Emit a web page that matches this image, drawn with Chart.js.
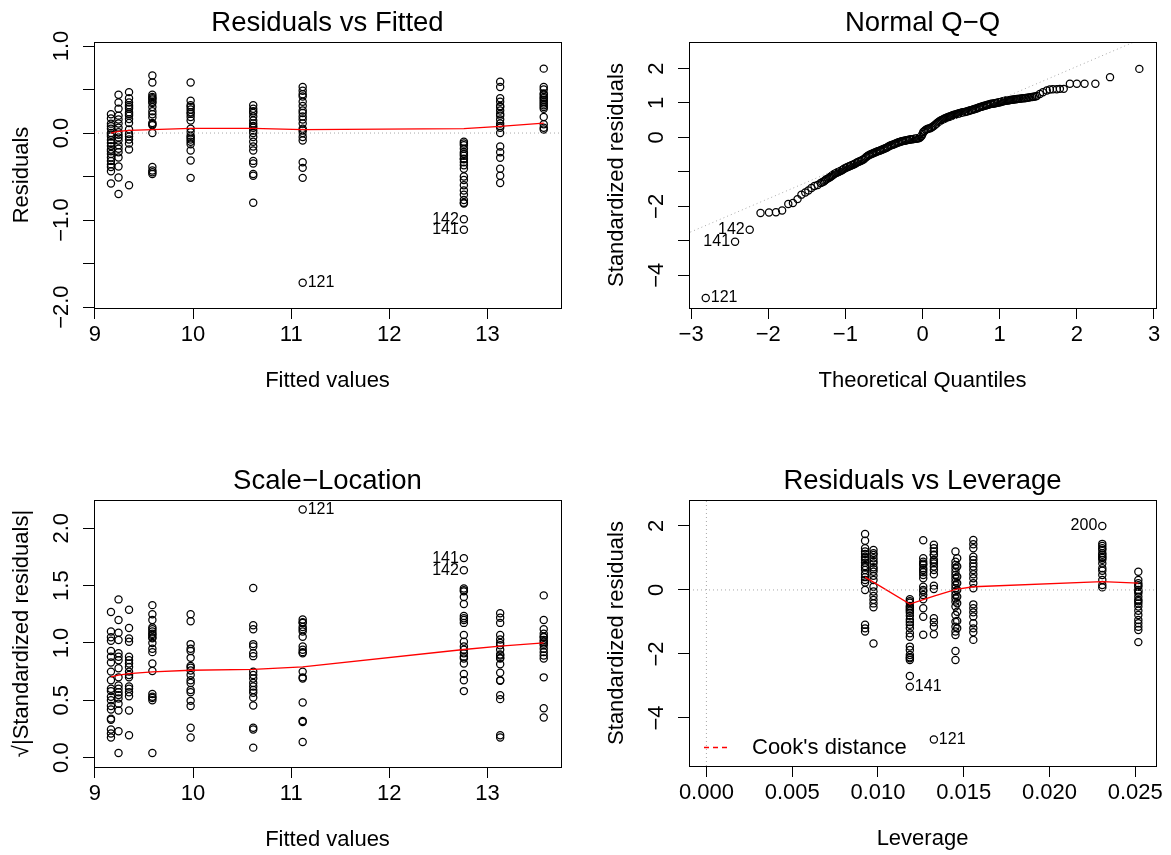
<!DOCTYPE html>
<html>
<head>
<meta charset="utf-8">
<script src="https://cdn.jsdelivr.net/npm/chart.js@4.4.1/dist/chart.umd.min.js"></script>
<style>
  body { margin: 0; background: #fff; }
  canvas { position: absolute; left: 0; top: 0; }
</style>
</head>
<body>
<canvas id="p1" width="1171" height="855"></canvas>
<canvas id="p2" width="1171" height="855"></canvas>
<canvas id="p3" width="1171" height="855"></canvas>
<canvas id="p4" width="1171" height="855"></canvas>
<script>
// ---- data ----
const fittedGroups = [9.163, 9.24, 9.347, 9.585, 9.975, 10.613, 11.117, 12.76, 13.13, 13.574];

// residuals, one list per fitted value
const residuals = [
  [0.215, 0.166, 0.108, 0.077, 0.05, 0.0, -0.02, -0.04, -0.08, -0.115, -0.15, -0.19, -0.21, -0.24, -0.28, -0.32, -0.36, -0.39, -0.44, -0.58],
  [0.44, 0.35, 0.28, 0.20, 0.155, 0.11, 0.06, 0.01, -0.02, -0.05, -0.085, -0.14, -0.18, -0.22, -0.28, -0.385, -0.51, -0.70],
  [0.47, 0.40, 0.35, 0.32, 0.30, 0.28, 0.24, 0.22, 0.20, 0.16, 0.115, 0.04, -0.01, -0.04, -0.075, -0.12, -0.19, -0.60],
  [0.66, 0.58, 0.44, 0.415, 0.40, 0.385, 0.36, 0.345, 0.30, 0.25, 0.215, 0.18, 0.115, 0.10, 0.09, 0.0, -0.39, -0.43, -0.45, -0.47],
  [0.58, 0.37, 0.32, 0.30, 0.27, 0.24, 0.22, 0.185, 0.145, 0.05, 0.01, -0.03, -0.05, -0.075, -0.10, -0.13, -0.20, -0.315, -0.515],
  [0.32, 0.28, 0.25, 0.23, 0.19, 0.145, 0.11, 0.08, 0.06, 0.03, 0.0, -0.046, -0.10, -0.155, -0.20, -0.32, -0.35, -0.47, -0.49, -0.80],
  [0.53, 0.485, 0.445, 0.42, 0.36, 0.31, 0.26, 0.23, 0.19, 0.155, 0.11, 0.05, 0.03, 0.0, -0.046, -0.085, -0.335, -0.40, -0.515, -1.72],
  [-0.10, -0.12, -0.14, -0.18, -0.22, -0.24, -0.26, -0.295, -0.30, -0.335, -0.37, -0.41, -0.50, -0.54, -0.60, -0.66, -0.71, -0.77, -0.80, -0.81, -0.99, -1.11],
  [0.59, 0.53, 0.40, 0.36, 0.31, 0.30, 0.26, 0.22, 0.20, 0.155, 0.11, 0.08, 0.06, 0.0, -0.155, -0.22, -0.285, -0.41, -0.49, -0.575],
  [0.74, 0.53, 0.50, 0.455, 0.44, 0.415, 0.40, 0.38, 0.36, 0.34, 0.32, 0.30, 0.28, 0.185, 0.10, 0.06, 0.04]
];
const residSmoothY = [0.0, 0.02, 0.03, 0.04, 0.054, 0.054, 0.04, 0.05, 0.077, 0.115];

// sqrt(|standardized residuals|), same fitted values
const sqrtStdResid = [
  [1.27, 1.10, 1.05, 1.02, 0.93, 0.88, 0.83, 0.75, 0.675, 0.60, 0.58, 0.53, 0.50, 0.45, 0.42, 0.34, 0.33, 0.245, 0.21, 0.175],
  [1.38, 1.20, 1.09, 1.025, 0.91, 0.88, 0.85, 0.78, 0.70, 0.63, 0.60, 0.57, 0.545, 0.515, 0.47, 0.41, 0.23, 0.04],
  [1.29, 1.13, 1.04, 1.01, 0.88, 0.85, 0.82, 0.79, 0.75, 0.72, 0.70, 0.62, 0.60, 0.57, 0.535, 0.41, 0.195],
  [1.33, 1.25, 1.20, 1.135, 1.12, 1.10, 1.08, 1.07, 1.05, 1.04, 1.00, 0.95, 0.92, 0.82, 0.755, 0.555, 0.53, 0.52, 0.50, 0.04],
  [1.25, 1.19, 0.99, 0.95, 0.93, 0.87, 0.80, 0.785, 0.76, 0.72, 0.675, 0.65, 0.59, 0.57, 0.495, 0.45, 0.26, 0.175],
  [1.48, 1.155, 1.12, 0.99, 0.97, 0.91, 0.885, 0.75, 0.72, 0.69, 0.65, 0.62, 0.59, 0.565, 0.525, 0.455, 0.26, 0.245, 0.087],
  [2.165, 1.205, 1.18, 1.175, 1.14, 1.12, 1.10, 1.055, 0.97, 0.94, 0.92, 0.91, 0.75, 0.70, 0.69, 0.48, 0.32, 0.31, 0.136],
  [1.74, 1.635, 1.475, 1.46, 1.45, 1.40, 1.34, 1.235, 1.215, 1.20, 1.175, 1.07, 1.01, 0.97, 0.94, 0.91, 0.88, 0.865, 0.82, 0.73, 0.675, 0.58],
  [1.26, 1.22, 1.175, 1.07, 1.03, 1.00, 0.98, 0.94, 0.90, 0.89, 0.87, 0.865, 0.815, 0.74, 0.675, 0.67, 0.545, 0.51, 0.195, 0.175],
  [1.415, 1.20, 1.12, 1.08, 1.055, 1.05, 1.025, 1.01, 0.995, 0.98, 0.95, 0.92, 0.89, 0.865, 0.70, 0.43, 0.35]
];
const scaleSmoothY = [0.704, 0.72, 0.733, 0.748, 0.762, 0.769, 0.791, 0.943, 0.972, 1.001];

// normal Q-Q: theoretical quantiles and standardized residuals
const qqTheo = [-2.81, -2.43, -2.24, -2.10, -1.99, -1.90, -1.82, -1.74, -1.68, -1.62, -1.57, -1.52, -1.48, -1.44, -1.40, -1.36,
  -1.32, -1.28, -1.25, -1.21, -1.18, -1.15, -1.12, -1.09, -1.06, -1.03, -1.00, -0.97, -0.94, -0.91, -0.88, -0.85, -0.82, -0.79,
  -0.76, -0.73, -0.70, -0.67, -0.64, -0.61, -0.58, -0.55, -0.52, -0.49, -0.46, -0.43, -0.40, -0.37, -0.34, -0.31, -0.28, -0.25,
  -0.22, -0.19, -0.16, -0.13, -0.10, -0.07, -0.04, -0.01, 0.01, 0.04, 0.07, 0.10, 0.13, 0.16, 0.19, 0.22, 0.25, 0.28, 0.31, 0.34,
  0.37, 0.40, 0.43, 0.46, 0.49, 0.52, 0.55, 0.58, 0.61, 0.64, 0.67, 0.70, 0.73, 0.76, 0.79, 0.82, 0.85, 0.88, 0.91, 0.94, 0.97,
  1.00, 1.03, 1.06, 1.09, 1.12, 1.15, 1.18, 1.21, 1.24, 1.28, 1.32, 1.36, 1.40, 1.44, 1.48, 1.52, 1.56, 1.61, 1.65, 1.69, 1.74,
  1.78, 1.83, 1.91, 2.00, 2.10, 2.24, 2.43, 2.81];
const qqSample = [-4.66, -3.03, -2.68, -2.19, -2.18, -2.17, -2.12, -1.93, -1.90, -1.79, -1.66, -1.60, -1.54, -1.47, -1.41, -1.38,
  -1.32, -1.28, -1.22, -1.17, -1.12, -1.07, -1.03, -1.00, -0.97, -0.93, -0.89, -0.86, -0.83, -0.80, -0.77, -0.73, -0.70, -0.67,
  -0.63, -0.57, -0.52, -0.49, -0.46, -0.43, -0.40, -0.38, -0.35, -0.32, -0.29, -0.25, -0.22, -0.20, -0.17, -0.14, -0.12, -0.10,
  -0.09, -0.07, -0.06, -0.05, -0.04, -0.03, -0.02, 0.05, 0.16, 0.22, 0.25, 0.27, 0.31, 0.36, 0.42, 0.47, 0.51, 0.54, 0.57, 0.60,
  0.62, 0.65, 0.67, 0.69, 0.71, 0.73, 0.74, 0.76, 0.78, 0.80, 0.82, 0.84, 0.87, 0.89, 0.91, 0.93, 0.95, 0.97, 0.98, 0.99, 1.01,
  1.02, 1.04, 1.06, 1.07, 1.08, 1.09, 1.10, 1.11, 1.12, 1.13, 1.14, 1.15, 1.17, 1.18, 1.20, 1.26, 1.31, 1.36, 1.39, 1.40, 1.40,
  1.41, 1.41, 1.56, 1.56, 1.56, 1.56, 1.75, 1.99];
// further readings along the dense central part of the Q-Q curve
const qqTheoMid = [-1.30, -1.265, -1.23, -1.195, -1.165, -1.135, -1.105, -1.075, -1.045, -1.015, -0.985, -0.955, -0.925, -0.895,
  -0.865, -0.835, -0.805, -0.775, -0.745, -0.715, -0.685, -0.655, -0.625, -0.595, -0.565, -0.535, -0.505, -0.475, -0.445, -0.415,
  -0.385, -0.355, -0.325, -0.295, -0.265, -0.235, -0.205, -0.175, -0.145, -0.115, -0.085, -0.055, -0.025, 0.0, 0.025, 0.055, 0.085,
  0.115, 0.145, 0.175, 0.205, 0.235, 0.265, 0.295, 0.325, 0.355, 0.385, 0.415, 0.445, 0.475, 0.505, 0.535, 0.565, 0.595, 0.625,
  0.655, 0.685, 0.715, 0.745, 0.775, 0.805, 0.835, 0.865, 0.895, 0.925, 0.955, 0.985, 1.015, 1.045, 1.075, 1.105, 1.135, 1.165,
  1.195, 1.225, 1.26, 1.30, 1.34, 1.38, 1.42, 1.46];
const qqSampleMid = [-1.30, -1.25, -1.195, -1.145, -1.095, -1.05, -1.015, -0.985, -0.95, -0.91, -0.875, -0.845, -0.815, -0.785,
  -0.75, -0.715, -0.685, -0.65, -0.60, -0.545, -0.505, -0.475, -0.445, -0.415, -0.39, -0.365, -0.335, -0.305, -0.27, -0.235,
  -0.21, -0.185, -0.155, -0.13, -0.11, -0.095, -0.08, -0.065, -0.055, -0.045, -0.035, -0.025, 0.01, 0.10, 0.19, 0.235, 0.26,
  0.29, 0.335, 0.39, 0.445, 0.49, 0.525, 0.555, 0.585, 0.61, 0.635, 0.66, 0.68, 0.70, 0.72, 0.735, 0.75, 0.77, 0.79,
  0.81, 0.83, 0.855, 0.88, 0.90, 0.92, 0.94, 0.96, 0.975, 0.985, 1.0, 1.015, 1.03, 1.05, 1.065, 1.075, 1.085, 1.095,
  1.105, 1.115, 1.125, 1.135, 1.145, 1.16, 1.175, 1.19];
const qqLineX = [-3.2, 3.2];
const qqLineY = [-2.93, 3.21];

// residuals vs leverage
const leverageGroups = [0.00925, 0.00974, 0.01186, 0.01264, 0.01326, 0.01452, 0.01462, 0.01556, 0.02308, 0.02518];
const stdResid = [
  [1.75, 1.54, 1.30, 1.20, 1.125, 1.04, 1.0, 0.94, 0.85, 0.75, 0.70, 0.625, 0.50, 0.40, 0.31, 0.23, 0.0, -1.09, -1.20, -1.30],
  [1.25, 1.15, 1.09, 0.99, 0.90, 0.83, 0.71, 0.65, 0.57, 0.44, 0.31, 0.10, -0.05, -0.19, -0.31, -0.42, -0.54, -1.67],
  [-0.29, -0.35, -0.40, -0.50, -0.55, -0.60, -0.65, -0.71, -0.81, -0.92, -1.0, -1.09, -1.20, -1.35, -1.46, -1.77, -1.875, -2.03, -2.10, -2.135, -2.19, -2.69, -3.02],
  [1.55, 0.99, 0.885, 0.82, 0.78, 0.68, 0.625, 0.55, 0.47, 0.365, 0.1, 0.0, -0.05, -0.16, -0.29, -0.57, -0.84, -1.40],
  [1.41, 1.30, 1.20, 1.10, 1.09, 0.94, 0.88, 0.83, 0.73, 0.625, 0.49, 0.135, 0.03, -0.885, -1.01, -1.15, -1.385, -4.67],
  [1.20, 0.885, 0.78, 0.68, 0.57, 0.47, 0.365, 0.26, 0.156, 0.05, -0.05, -0.16, -0.26, -0.365, -0.52, -0.78, -0.99, -1.15, -1.30, -1.41, -1.91, -2.19],
  [0.99, 0.73, 0.415, 0.21, 0.0, -0.21, -0.415, -0.68, -0.97, -1.20],
  [1.56, 1.43, 1.30, 1.04, 0.94, 0.83, 0.73, 0.625, 0.49, 0.365, 0.21, 0.05, -0.45, -0.57, -0.70, -0.83, -1.04, -1.20, -1.32, -1.56],
  [2.0, 1.44, 1.375, 1.30, 1.25, 1.15, 1.10, 1.04, 1.0, 0.94, 0.83, 0.68, 0.60, 0.47, 0.31, 0.156, 0.08],
  [0.57, 0.31, 0.21, 0.15, 0.10, 0.0, -0.05, -0.10, -0.21, -0.31, -0.35, -0.42, -0.52, -0.65, -0.78, -0.94, -1.04, -1.15, -1.25, -1.63]
];
const levSmoothX = [0.00925, 0.01186, 0.01264, 0.01326, 0.01455, 0.01556, 0.02308, 0.02518];
const levSmoothY = [0.40, -0.44, -0.30, -0.19, 0.02, 0.10, 0.26, 0.21];

// axis ranges and ticks
const fitRange = [8.99, 13.75];
const residRange = [-2.01, 1.046];
const qqXRange = [-3.027, 3.026];
const qqYRange = [-4.95, 2.77];
const scaleRange = [-0.082, 2.247];
const levRange = [-0.001015, 0.02621];
const levYRange = [-5.5, 2.81];

const fitTicks = [9, 10, 11, 12, 13];
const residTicks = [-2, -1.5, -1, -0.5, 0, 0.5, 1];
const residTickLabels = ['−2.0', '', '−1.0', '', '0.0', '', '1.0'];
const qqXTicks = [-3, -2, -1, 0, 1, 2, 3];
const qqXTickLabels = ['−3', '−2', '−1', '0', '1', '2', '3'];
const qqYTicks = [-4, -3, -2, -1, 0, 1, 2];
const qqYTickLabels = ['−4', '', '−2', '', '0', '1', '2'];
const scaleTicks = [0, 0.5, 1, 1.5, 2];
const scaleTickLabels = ['0.0', '0.5', '1.0', '1.5', '2.0'];
const levTicks = [0, 0.005, 0.01, 0.015, 0.02, 0.025];
const levTickLabels = ['0.000', '0.005', '0.010', '0.015', '0.020', '0.025'];
const levYTicks = [-4, -2, 0, 2];
const levYTickLabels = ['−4', '−2', '0', '2'];

// ---- drawing ----
const W = 1171, H = 855, TL = 11;
const FONT = '"Liberation Sans", Arial, Helvetica, sans-serif';

function groupPoints(xs, groups) {
  const pts = [];
  groups.forEach((vals, i) => vals.forEach(v => pts.push({ x: xs[i], y: v })));
  return pts;
}
function zipPoints(xs, ys) {
  return xs.map((x, i) => ({ x: x, y: ys[i] }));
}

const pointSet = pts => ({
  data: pts, order: 2, showLine: false,
  pointStyle: 'circle', pointRadius: 3.6, pointBorderWidth: 1.25,
  pointBorderColor: '#000', pointBackgroundColor: 'rgba(0,0,0,0)'
});
const redLine = pts => ({
  data: pts, order: 1, showLine: true, borderColor: '#ff0000', borderWidth: 1.3,
  pointRadius: 0, fill: false
});
const dotLine = pts => ({
  data: pts, order: 0, showLine: true, borderColor: '#a8a8a8', borderWidth: 1,
  borderDash: [1, 3], pointRadius: 0, fill: false, clip: 0
});

function decor(spec) {
  return {
    id: 'rdecor',
    afterDraw(chart) {
      const { ctx, chartArea: a } = chart;
      const x = chart.scales.x, y = chart.scales.y;
      ctx.save();
      ctx.strokeStyle = '#000';
      ctx.lineWidth = 1;
      ctx.strokeRect(a.left + 0.5, a.top + 0.5, a.right - a.left, a.bottom - a.top);
      ctx.fillStyle = '#000';
      ctx.textAlign = 'center';
      ctx.textBaseline = 'middle';
      const cx = (a.left + a.right) / 2, cy = (a.top + a.bottom) / 2;
      ctx.font = '27.5px ' + FONT;
      ctx.fillText(spec.title, cx, a.top - 19);
      ctx.font = '22px ' + FONT;
      ctx.fillText(spec.xTitle, cx, a.bottom + 73);
      spec.xTicks.forEach((v, i) => {
        if (spec.xLabels[i]) ctx.fillText(spec.xLabels[i], x.getPixelForValue(v), a.bottom + 27);
      });
      spec.yTicks.forEach((v, i) => {
        if (!spec.yLabels[i]) return;
        ctx.save();
        ctx.translate(a.left - 32, y.getPixelForValue(v));
        ctx.rotate(-Math.PI / 2);
        ctx.fillText(spec.yLabels[i], 0, 0);
        ctx.restore();
      });
      ctx.save();
      ctx.translate(a.left - 72, cy);
      ctx.rotate(-Math.PI / 2);
      ctx.fillText(spec.yTitle, 0, 0);
      ctx.restore();

      ctx.font = '16px ' + FONT;
      spec.ids.forEach(d => {
        const px = x.getPixelForValue(d.x), py = y.getPixelForValue(d.y);
        const right = d.side === 'right';
        ctx.textAlign = right ? 'left' : 'right';
        ctx.fillText(d.text, px + (right ? 5 : -5), py);
      });

      if (spec.legend) {
        const ly = Math.round(a.bottom - 19) + 0.5;
        ctx.strokeStyle = '#ff0000';
        ctx.lineWidth = 1.3;
        ctx.setLineDash([5, 4]);
        ctx.beginPath();
        ctx.moveTo(a.left + 15, ly);
        ctx.lineTo(a.left + 42, ly);
        ctx.stroke();
        ctx.setLineDash([]);
        ctx.font = '22px ' + FONT;
        ctx.textAlign = 'left';
        ctx.fillText(spec.legend, a.left + 63, ly);
      }
      ctx.restore();
    }
  };
}

function makePanel(id, box, spec, datasets) {
  const axis = (range, ticks, horizontal) => ({
    type: 'linear', min: range[0], max: range[1],
    afterBuildTicks: s => { s.ticks = ticks.map(v => ({ value: v })); },
    afterFit: s => { if (horizontal) s.height = TL; else s.width = TL; },
    ticks: { display: false },
    grid: { drawOnChartArea: false, drawTicks: true, tickLength: TL, color: '#000', lineWidth: 1 },
    border: { display: false }
  });
  new Chart(document.getElementById(id), {
    type: 'scatter',
    data: { datasets: datasets },
    options: {
      responsive: false,
      animation: false,
      events: [],
      layout: { padding: { left: box.l - TL, top: box.t, right: W - box.r, bottom: H - box.b - TL } },
      plugins: { legend: { display: false }, tooltip: { enabled: false }, title: { display: false } },
      scales: {
        x: axis(spec.xRange, spec.xTicks, true),
        y: axis(spec.yRange, spec.yTicks, false)
      }
    },
    plugins: [decor(spec)]
  });
}

// Residuals vs Fitted
makePanel('p1', { l: 94, t: 42, r: 561, b: 308 }, {
  title: 'Residuals vs Fitted', xTitle: 'Fitted values', yTitle: 'Residuals',
  xRange: fitRange, yRange: residRange,
  xTicks: fitTicks, xLabels: fitTicks.map(String),
  yTicks: residTicks, yLabels: residTickLabels,
  ids: [
    { x: 11.117, y: -1.72, text: '121', side: 'right' },
    { x: 12.76, y: -0.99, text: '142', side: 'left' },
    { x: 12.76, y: -1.11, text: '141', side: 'left' }
  ]
}, [
  dotLine(zipPoints(fitRange, [0, 0])),
  redLine(zipPoints(fittedGroups, residSmoothY)),
  pointSet(groupPoints(fittedGroups, residuals))
]);

// Normal Q-Q
makePanel('p2', { l: 689, t: 42, r: 1156, b: 308 }, {
  title: 'Normal Q−Q', xTitle: 'Theoretical Quantiles', yTitle: 'Standardized residuals',
  xRange: qqXRange, yRange: qqYRange,
  xTicks: qqXTicks, xLabels: qqXTickLabels,
  yTicks: qqYTicks, yLabels: qqYTickLabels,
  ids: [
    { x: -2.81, y: -4.66, text: '121', side: 'right' },
    { x: -2.43, y: -3.03, text: '141', side: 'left' },
    { x: -2.24, y: -2.68, text: '142', side: 'left' }
  ]
}, [
  dotLine(zipPoints(qqLineX, qqLineY)),
  pointSet(zipPoints(qqTheo, qqSample)),
  pointSet(zipPoints(qqTheoMid, qqSampleMid))
]);

// Scale-Location
makePanel('p3', { l: 94, t: 500, r: 561, b: 767 }, {
  title: 'Scale−Location', xTitle: 'Fitted values', yTitle: '√|Standardized residuals|',
  xRange: fitRange, yRange: scaleRange,
  xTicks: fitTicks, xLabels: fitTicks.map(String),
  yTicks: scaleTicks, yLabels: scaleTickLabels,
  ids: [
    { x: 11.117, y: 2.165, text: '121', side: 'right' },
    { x: 12.76, y: 1.74, text: '141', side: 'left' },
    { x: 12.76, y: 1.635, text: '142', side: 'left' }
  ]
}, [
  redLine(zipPoints(fittedGroups, scaleSmoothY)),
  pointSet(groupPoints(fittedGroups, sqrtStdResid))
]);

// Residuals vs Leverage
makePanel('p4', { l: 689, t: 500, r: 1156, b: 766 }, {
  title: 'Residuals vs Leverage', xTitle: 'Leverage', yTitle: 'Standardized residuals',
  xRange: levRange, yRange: levYRange,
  xTicks: levTicks, xLabels: levTickLabels,
  yTicks: levYTicks, yLabels: levYTickLabels,
  legend: "Cook's distance",
  ids: [
    { x: 0.01186, y: -3.02, text: '141', side: 'right' },
    { x: 0.01326, y: -4.67, text: '121', side: 'right' },
    { x: 0.02308, y: 2.0, text: '200', side: 'left' }
  ]
}, [
  dotLine(zipPoints(levRange, [0, 0])),
  dotLine(zipPoints([0, 0], levYRange)),
  redLine(zipPoints(levSmoothX, levSmoothY)),
  pointSet(groupPoints(leverageGroups, stdResid))
]);
</script>
</body>
</html>
